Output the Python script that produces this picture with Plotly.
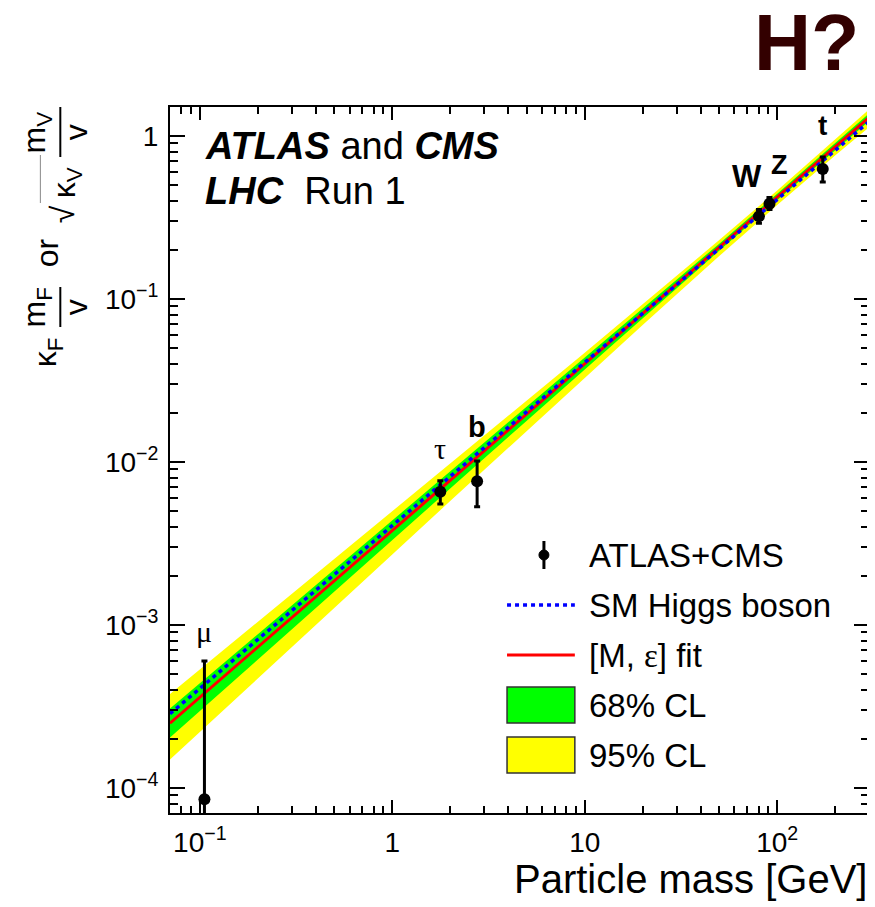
import numpy as np
import plotly.graph_objects as go

# ---------------- data ----------------
particles = ["μ", "τ", "b", "W", "Z", "t"]
mass = [0.1057, 1.777, 2.76, 80.4, 91.19, 172.5]
coupling = [8.5e-5, 6.55e-3, 7.6e-3, 0.32, 0.383, 0.625]
coupling_hi = [6.0e-4, 7.65e-3, 1.01e-2, 0.352, 0.418, 0.74]
coupling_lo = [1.0e-6, 5.5e-3, 5.3e-3, 0.29, 0.352, 0.52]

line_mass = [0.07, 300]
sm_line = [2.843e-4, 1.218]
fit_line = [2.49e-4, 1.294]

band_mass = [0.07, 0.1, 0.2, 0.5, 1, 2, 5, 10, 20, 50, 100, 200, 300]
green_hi = [3.06e-4, 4.37e-4, 8.71e-4, 2.172e-3, 4.334e-3, 8.652e-3, 2.159e-2,
            4.317e-2, 8.647e-2, 0.2177, 0.4406, 0.8991, 1.368]
green_lo = [2.03e-4, 2.95e-4, 6.11e-4, 1.598e-3, 3.307e-3, 6.84e-3, 1.787e-2,
            3.69e-2, 7.61e-2, 0.197, 0.4018, 0.8137, 1.225]
yellow_hi = [3.76e-4, 5.31e-4, 1.041e-3, 2.532e-3, 4.961e-3, 9.73e-3, 2.373e-2,
             4.669e-2, 9.22e-2, 0.2289, 0.4613, 0.9452, 1.446]
yellow_lo = [1.49e-4, 2.20e-4, 4.68e-4, 1.27e-3, 2.70e-3, 5.74e-3, 1.55e-2,
             3.279e-2, 6.91e-2, 0.1827, 0.3751, 0.7549, 1.127]

x_tickvals = [0.1, 1, 10, 100]
x_ticktext = ["10<sup>−1</sup>", "1", "10", "10<sup>2</sup>"]
y_tickvals = [1e-4, 1e-3, 1e-2, 1e-1, 1]
y_ticktext = ["10<sup>−4</sup>", "10<sup>−3</sup>", "10<sup>−2</sup>", "10<sup>−1</sup>", "1"]

# label positions for particle names
label_x = [0.1057, 1.777, 2.76, 70.0, 103.0, 172.0]
label_y = [9.1e-4, 1.2e-2, 1.63e-2, 0.56, 0.66, 1.15]

# ---------------- layout geometry ----------------
# page body has an 8px margin: shift the figure so the plot area lands on the
# reference's pixel positions (plot area x 170..871, y 107..813 in the window)
OFF = 8
PX0, PX1, PY0, PY1 = 170, 871, 107, 813
W, H = 875 - OFF, 907 - OFF
L, T = PX0 - OFF, PY0 - OFF
PW, PH = PX1 - PX0, PY1 - PY0
R, B = W - L - PW, H - T - PH
FONT = "Liberation Sans, Arial, Helvetica, sans-serif"
SERIF = "Liberation Serif, Times New Roman, serif"


def px(x):
    return (x - PX0) / PW


def py(y):
    return (PY1 - y) / PH


fig = go.Figure()

fig.add_trace(go.Scatter(x=band_mass + band_mass[::-1], y=yellow_hi + yellow_lo[::-1],
                         fill="toself", fillcolor="#ffff00", mode="lines",
                         line=dict(width=0), hoverinfo="skip", showlegend=False))
fig.add_trace(go.Scatter(x=band_mass + band_mass[::-1], y=green_hi + green_lo[::-1],
                         fill="toself", fillcolor="#00ff00", mode="lines",
                         line=dict(width=0), hoverinfo="skip", showlegend=False))
fig.add_trace(go.Scatter(x=line_mass, y=fit_line, mode="lines",
                         line=dict(color="#ff0000", width=3), showlegend=False))
fig.add_trace(go.Scatter(x=line_mass, y=sm_line, mode="lines",
                         line=dict(color="#0000ff", width=3.5, dash="4px,4px"), showlegend=False))

err_plus = [h - c for h, c in zip(coupling_hi, coupling)]
err_minus = [c - l for c, l in zip(coupling, coupling_lo)]
fig.add_trace(go.Scatter(x=mass, y=coupling, mode="markers",
                         marker=dict(color="black", size=12),
                         error_y=dict(type="data", symmetric=False, array=err_plus,
                                      arrayminus=err_minus, color="black",
                                      thickness=3, width=3),
                         showlegend=False))

ann = []
label_style = {
    "μ": dict(size=30, family=SERIF, bold=False),
    "τ": dict(size=30, family=SERIF, bold=False),
    "b": dict(size=29, family=FONT, bold=True),
    "W": dict(size=31, family=FONT, bold=True),
    "Z": dict(size=27, family=FONT, bold=True),
    "t": dict(size=28, family=FONT, bold=True),
}
for name, lx, ly in zip(particles, label_x, label_y):
    st = label_style[name]
    txt = f"<b>{name}</b>" if st["bold"] else name
    ann.append(dict(x=np.log10(lx), y=np.log10(ly), xref="x", yref="y", text=txt,
                    showarrow=False, font=dict(size=st["size"], family=st["family"], color="black"),
                    xanchor="center", yanchor="middle"))

# experiment text
ann.append(dict(x=px(203), y=py(146), xref="paper", yref="paper", xanchor="left", yanchor="middle",
                text="<b><i>ATLAS</i></b> and <b><i>CMS</i></b>", showarrow=False,
                font=dict(size=38, family=FONT, color="black")))
ann.append(dict(x=px(203), y=py(191), xref="paper", yref="paper", xanchor="left", yanchor="middle",
                text="<b><i>LHC</i></b>  Run 1", showarrow=False,
                font=dict(size=38, family=FONT, color="black")))

# H?
ann.append(dict(x=px(863), y=py(43), xref="paper", yref="paper", xanchor="right", yanchor="middle",
                text="<b>H?</b>", showarrow=False, font=dict(size=79, family=FONT, color="#330000")))

# x axis title
ann.append(dict(x=px(871), y=py(879), xref="paper", yref="paper", xanchor="right", yanchor="middle",
                text="Particle mass [GeV]", showarrow=False,
                font=dict(size=40, family=FONT, color="black")))

# y axis title pieces (rotated)
yt_font = dict(size=32, family=FONT, color="black")
ytitle = [
    ("κ<sub>F</sub>", 47, 352),
    ("m<sub>F</sub>", 36, 307),
    ("v", 76, 307),
    ("or", 47, 253),
    ("√", 63, 214),
    ("κ<sub>V</sub>", 66, 183),
    ("m<sub>V</sub>", 36, 132),
    ("v", 76, 132),
]
for txt, x0, y0 in ytitle:
    ann.append(dict(x=px(x0), y=py(y0), xref="paper", yref="paper", xanchor="center",
                    yanchor="middle", text=txt, textangle=-90, showarrow=False, font=yt_font))

shapes = []
shapes.append(dict(type="line", xref="paper", yref="paper", x0=px(60), x1=px(60),
                   y0=py(287), y1=py(327), line=dict(color="black", width=2)))
shapes.append(dict(type="line", xref="paper", yref="paper", x0=px(60), x1=px(60),
                   y0=py(107), y1=py(157), line=dict(color="black", width=2)))
shapes.append(dict(type="line", xref="paper", yref="paper", x0=px(40), x1=px(40),
                   y0=py(155), y1=py(203), line=dict(color="#888888", width=1)))

# legend
legend_rows = ["ATLAS+CMS", "SM Higgs boson",
               "[M, <span style='font-family:Liberation Serif'>ε</span>] fit",
               "68% CL", "95% CL"]
row_y = [555, 605, 655, 705, 755]
for txt, yy in zip(legend_rows, row_y):
    ann.append(dict(x=px(588), y=py(yy), xref="paper", yref="paper", xanchor="left", yanchor="middle",
                    text=txt, showarrow=False, font=dict(size=33, family=FONT, color="black")))
shapes.append(dict(type="line", xref="paper", yref="paper", x0=px(545), x1=px(545),
                   y0=py(541), y1=py(569), line=dict(color="black", width=3)))
shapes.append(dict(type="circle", xref="paper", yref="paper", x0=px(540), x1=px(550),
                   y0=py(550), y1=py(560), fillcolor="black", line=dict(color="black", width=1)))
shapes.append(dict(type="line", xref="paper", yref="paper", x0=px(508), x1=px(576),
                   y0=py(605), y1=py(605), line=dict(color="#0000ff", width=3.5, dash="4px,4px")))
shapes.append(dict(type="line", xref="paper", yref="paper", x0=px(508), x1=px(576),
                   y0=py(655), y1=py(655), line=dict(color="#ff0000", width=3)))
shapes.append(dict(type="rect", xref="paper", yref="paper", x0=px(508), x1=px(576),
                   y0=py(723), y1=py(687), fillcolor="#00ff00", line=dict(color="#333333", width=1.5)))
shapes.append(dict(type="rect", xref="paper", yref="paper", x0=px(508), x1=px(576),
                   y0=py(773), y1=py(737), fillcolor="#ffff00", line=dict(color="#333333", width=1.5)))

x_minor = [0.07, 0.08, 0.09] + [k * 10.0 ** e for e in (-1, 0, 1) for k in range(2, 10)] + [200]
y_minor = [8e-5, 9e-5] + [k * 10.0 ** e for e in (-4, -3, -2, -1) for k in range(2, 10)]

fig.update_layout(
    width=W, height=H,
    margin=dict(l=L, r=R, t=T, b=B),
    paper_bgcolor="white", plot_bgcolor="white",
    font=dict(family=FONT, color="black"),
    showlegend=False,
    annotations=ann,
    shapes=shapes,
    xaxis=dict(type="log", range=[np.log10(0.07), np.log10(300)],
               tickmode="array", tickvals=x_tickvals, ticktext=x_ticktext,
               ticks="inside", ticklen=13, tickwidth=1.5, tickcolor="black",
               showline=True, linewidth=2, linecolor="black", mirror="allticks",
               showgrid=False, zeroline=False, ticklabelstandoff=3,
               tickfont=dict(size=28, family=FONT, color="black"),
               minor=dict(tickmode="array", tickvals=x_minor, ticks="inside", ticklen=7,
                          tickwidth=1.5, tickcolor="black", showgrid=False)),
    yaxis=dict(type="log", range=[np.log10(7e-5), np.log10(1.5)],
               tickmode="array", tickvals=y_tickvals, ticktext=y_ticktext,
               ticks="inside", ticklen=15, tickwidth=1.5, tickcolor="black",
               showline=True, linewidth=2, linecolor="black", mirror="allticks",
               showgrid=False, zeroline=False, ticklabelstandoff=4,
               tickfont=dict(size=28, family=FONT, color="black"),
               minor=dict(tickmode="array", tickvals=y_minor, ticks="inside", ticklen=8,
                          tickwidth=1.5, tickcolor="black", showgrid=False)),
)

fig.write_html("out.html")
